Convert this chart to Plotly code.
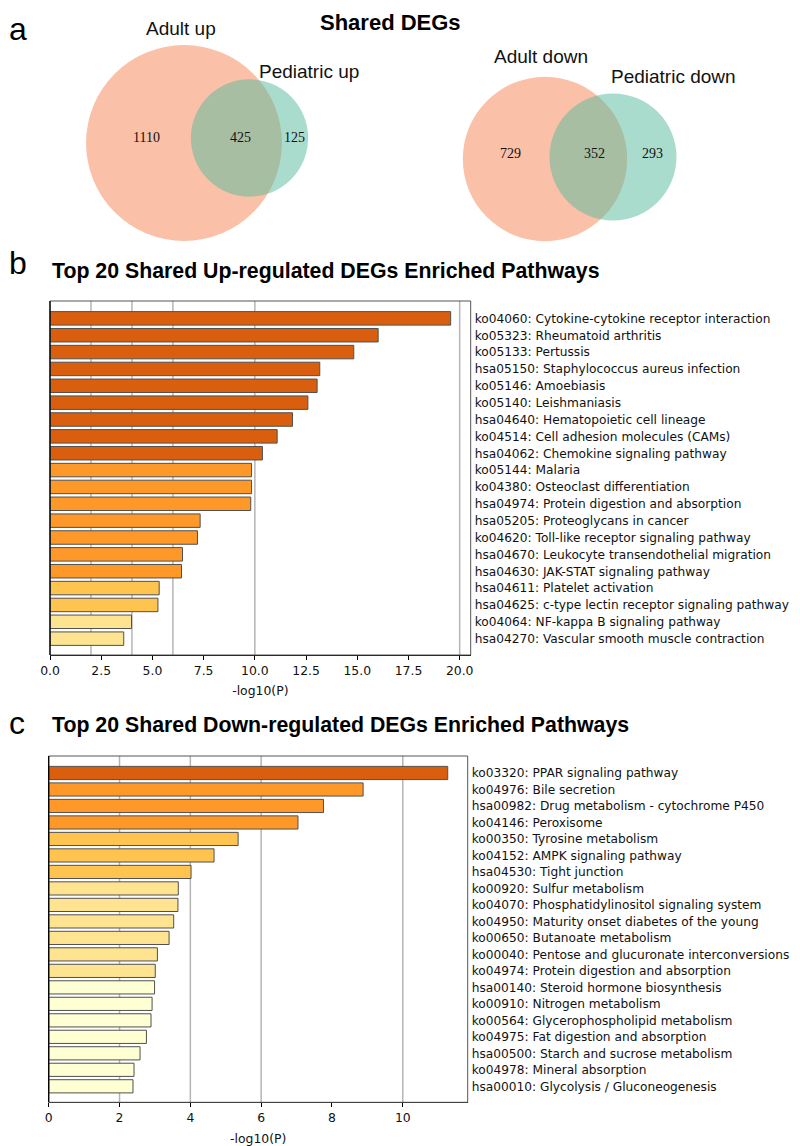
import plotly.graph_objects as go

# The page body has an 8px margin, so the figure is drawn 8px in from the
# top-left; all layout positions below are page pixels.
PAGE_W, PAGE_H, OFF = 800, 1146, 8
W, H = PAGE_W - OFF, PAGE_H - OFF

# ---------------- data ----------------
VENN_UP_LABELS = ["Adult up", "Pediatric up"]
VENN_UP_COUNTS = [1110, 425, 125]          # adult only, shared, pediatric only
VENN_DOWN_LABELS = ["Adult down", "Pediatric down"]
VENN_DOWN_COUNTS = [729, 352, 293]

UP_PATHWAYS = [
    "ko04060: Cytokine-cytokine receptor interaction",
    "ko05323: Rheumatoid arthritis",
    "ko05133: Pertussis",
    "hsa05150: Staphylococcus aureus infection",
    "ko05146: Amoebiasis",
    "ko05140: Leishmaniasis",
    "hsa04640: Hematopoietic cell lineage",
    "ko04514: Cell adhesion molecules (CAMs)",
    "hsa04062: Chemokine signaling pathway",
    "ko05144: Malaria",
    "ko04380: Osteoclast differentiation",
    "hsa04974: Protein digestion and absorption",
    "hsa05205: Proteoglycans in cancer",
    "ko04620: Toll-like receptor signaling pathway",
    "hsa04670: Leukocyte transendothelial migration",
    "hsa04630: JAK-STAT signaling pathway",
    "hsa04611: Platelet activation",
    "hsa04625: c-type lectin receptor signaling pathway",
    "ko04064: NF-kappa B signaling pathway",
    "hsa04270: Vascular smooth muscle contraction",
]
UP_LOGP = [19.56, 16.02, 14.83, 13.17, 13.04, 12.59, 11.84, 11.09, 10.37, 9.84,
           9.84, 9.80, 7.33, 7.20, 6.47, 6.42, 5.33, 5.27, 3.98, 3.60]

DOWN_PATHWAYS = [
    "ko03320: PPAR signaling pathway",
    "ko04976: Bile secretion",
    "hsa00982: Drug metabolism - cytochrome P450",
    "ko04146: Peroxisome",
    "ko00350: Tyrosine metabolism",
    "ko04152: AMPK signaling pathway",
    "hsa04530: Tight junction",
    "ko00920: Sulfur metabolism",
    "ko04070: Phosphatidylinositol signaling system",
    "ko04950: Maturity onset diabetes of the young",
    "ko00650: Butanoate metabolism",
    "ko00040: Pentose and glucuronate interconversions",
    "ko04974: Protein digestion and absorption",
    "hsa00140: Steroid hormone biosynthesis",
    "ko00910: Nitrogen metabolism",
    "ko00564: Glycerophospholipid metabolism",
    "ko04975: Fat digestion and absorption",
    "hsa00500: Starch and sucrose metabolism",
    "ko04978: Mineral absorption",
    "hsa00010: Glycolysis / Gluconeogenesis",
]
DOWN_LOGP = [11.27, 8.88, 7.76, 7.04, 5.35, 4.67, 4.02, 3.66, 3.65, 3.53,
             3.40, 3.07, 3.01, 2.99, 2.92, 2.89, 2.76, 2.58, 2.41, 2.38]

# colour bins on -log10(P)
BIN_EDGES = [3, 4, 6, 10, 20]
BIN_COLORS = ["#FFFFD4", "#FEE391", "#FEC44F", "#FE9929", "#D95F0E", "#993404"]
GRID_THRESHOLDS = [2, 4, 6, 10, 20]

# ---------------- styling ----------------
TICK_FONT = dict(family="DejaVu Sans", size=12.4, color="#111111")
LABEL_FONT = dict(family="DejaVu Sans", size=12.2, color="#111111")
SANS = "Liberation Sans, Arial, sans-serif"
SERIF = "Liberation Serif, Times New Roman, serif"
SALMON = "rgb(250,192,168)"
TEAL = "rgba(92,188,159,0.52)"


def bin_color(v):
    return BIN_COLORS[sum(v >= e for e in BIN_EDGES)]


def px_x(x):
    return (x - OFF) / W


def px_y(y):
    return 1 - (y - OFF) / H


fig = go.Figure()

panels = [
    # (names, values, axis suffix, box px (x0, x1, y0, y1), dtick, tickformat)
    (UP_PATHWAYS, UP_LOGP, "", (50, 470.7, 301, 655), 2.5, ".1f"),
    (DOWN_PATHWAYS, DOWN_LOGP, "2", (48.7, 467.7, 756, 1102.3), 2, "d"),
]

shapes = []
for names, vals, sfx, (x0, x1, y0, y1), dtick, tfmt in panels:
    xa, ya = "x" + sfx, "y" + sfx
    fig.add_trace(go.Bar(
        x=vals, y=names, orientation="h", width=0.8,
        marker=dict(color=[bin_color(v) for v in vals],
                    line=dict(color="#505050", width=1)),
        xaxis=xa, yaxis=ya, showlegend=False, hoverinfo="x+y",
    ))
    xmax = max(vals) * 1.05
    fig.update_layout(**{
        "xaxis" + sfx: dict(
            domain=[px_x(x0), px_x(x1)], range=[0, xmax], anchor=ya,
            tick0=0, dtick=dtick, tickformat=tfmt, ticks="outside",
            ticklen=4, tickwidth=1, tickcolor="#000", tickfont=TICK_FONT,
            showline=True, linecolor="#000", linewidth=1.3,
            showgrid=False, zeroline=False, automargin=False,
            title=dict(text="-log10(P)", font=TICK_FONT, standoff=9),
        ),
        "yaxis" + sfx: dict(
            domain=[px_y(y1), px_y(y0)], type="category",
            categoryorder="array", categoryarray=names,
            range=[19.97, -1.03], anchor=xa, side="right",
            ticks="", showline=False, showgrid=False, zeroline=False,
            tickfont=LABEL_FONT, ticklabelstandoff=3, automargin=False,
        ),
    })
    for g in GRID_THRESHOLDS:
        if g <= xmax:
            shapes.append(dict(type="line", xref=xa, yref=ya + " domain",
                               x0=g, x1=g, y0=0, y1=1, layer="below",
                               line=dict(color="#b5b5b5", width=1.5)))
    shapes.append(dict(type="rect", xref=xa + " domain", yref=ya + " domain",
                       x0=0, x1=1, y0=0, y1=1, layer="above",
                       line=dict(color="#555555", width=1)))
    shapes.append(dict(type="line", xref=xa + " domain", yref=ya + " domain",
                       x0=0, x1=0, y0=0, y1=1, layer="above",
                       line=dict(color="#000000", width=1.3)))

# page-pixel overlay axis for Venn diagrams
fig.update_layout(
    xaxis3=dict(domain=[0, 1], range=[OFF, PAGE_W], visible=False, fixedrange=True, anchor="y3"),
    yaxis3=dict(domain=[0, 1], range=[PAGE_H, OFF], visible=False, fixedrange=True, anchor="x3"),
)

VENN_K = 2.5  # px per sqrt(count)
venns = [
    (VENN_UP_COUNTS, VENN_UP_LABELS, (184, 143), (249.5, 138),
     [(146, 137), (241, 137), (294, 137)], [(181, 28.5), (309, 71.5)]),
    (VENN_DOWN_COUNTS, VENN_DOWN_LABELS, (545, 159), (613, 157),
     [(510, 153), (594, 153), (652, 153)], [(541, 57), (673, 76)]),
]
annotations = []
for counts, labels, ca, cb, num_pos, lab_pos in venns:
    ra = VENN_K * (counts[0] + counts[1]) ** 0.5
    rb = VENN_K * (counts[1] + counts[2]) ** 0.5
    shapes.append(dict(type="circle", xref="x3", yref="y3",
                       x0=ca[0] - ra, x1=ca[0] + ra, y0=ca[1] - ra, y1=ca[1] + ra,
                       fillcolor=SALMON, line=dict(width=0)))
    shapes.append(dict(type="circle", xref="x3", yref="y3",
                       x0=cb[0] - rb, x1=cb[0] + rb, y0=cb[1] - rb, y1=cb[1] + rb,
                       fillcolor=TEAL, line=dict(width=0)))
    for n, (x, y) in zip(counts, num_pos):
        annotations.append(dict(text=str(n), x=px_x(x), y=px_y(y), xref="paper", yref="paper",
                                showarrow=False, xanchor="center", yanchor="middle",
                                font=dict(family=SERIF, size=14, color="#111")))
    for t, (x, y) in zip(labels, lab_pos):
        annotations.append(dict(text=t, x=px_x(x), y=px_y(y), xref="paper", yref="paper",
                                showarrow=False, xanchor="center", yanchor="middle",
                                font=dict(family=SANS, size=19, color="#111")))

texts = [
    ("<b>Shared DEGs</b>", 390, 8.5, "center", 22, "top"),
    ("a", 8, 28.5, "left", 32, "middle"),
    ("b", 8, 263, "left", 32, "middle"),
    ("c", 8, 723, "left", 32, "middle"),
    ("<b>Top 20 Shared Up-regulated DEGs Enriched Pathways</b>", 51, 271, "left", 21.3, "middle"),
    ("<b>Top 20 Shared Down-regulated DEGs Enriched Pathways</b>", 51, 725, "left", 21.3, "middle"),
]
for t, x, y, xa, s, yanc in texts:
    annotations.append(dict(text=t, x=px_x(x), y=px_y(y), xref="paper", yref="paper",
                            showarrow=False, xanchor=xa, yanchor=yanc, borderpad=0,
                            font=dict(family=SANS, size=s, color="#000")))

fig.update_layout(
    width=W, height=H, margin=dict(l=0, r=0, t=0, b=0),
    paper_bgcolor="white", plot_bgcolor="rgba(0,0,0,0)",
    shapes=shapes, annotations=annotations, bargap=0.2,
)

fig.write_html("out.html")
